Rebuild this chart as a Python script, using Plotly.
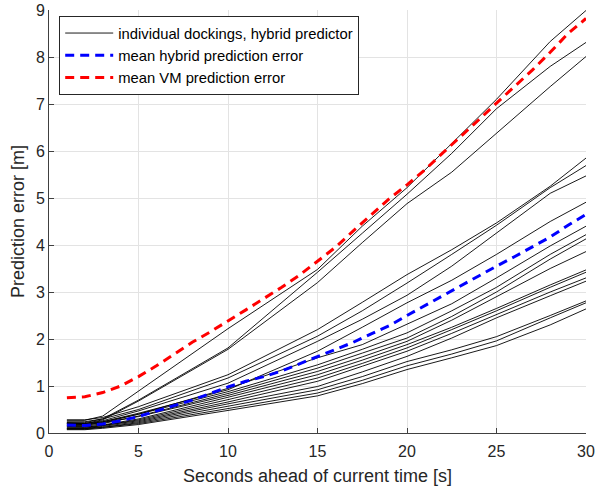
import plotly.graph_objects as go

# time grid (seconds ahead) for the individual dockings
seconds = [1, 2, 3, 5, 10, 15, 17.5, 20, 22.5, 25, 28, 30]

# individual dockings, hybrid predictor (prediction error [m])
dock_a = [0.27, 0.27, 0.36, 0.89, 2.22, 3.48, 4.40, 5.22, 6.15, 7.10, 8.33, 8.99]
dock_b = [0.22, 0.22, 0.30, 0.70, 1.81, 3.42, 4.25, 5.08, 5.95, 6.90, 7.80, 8.31]
dock_c = [0.20, 0.20, 0.28, 0.68, 1.78, 3.20, 4.05, 4.88, 5.55, 6.38, 7.37, 8.01]
dock_m1 = [0.28, 0.28, 0.33, 0.56, 1.24, 2.20, 2.78, 3.37, 3.90, 4.47, 5.25, 5.85]
dock_m2 = [0.24, 0.24, 0.30, 0.50, 1.17, 2.06, 2.60, 3.19, 3.80, 4.42, 5.22, 5.69]
dock_m3 = [0.20, 0.20, 0.26, 0.47, 1.06, 1.95, 2.42, 2.93, 3.55, 4.25, 5.10, 5.47]
dock_m4 = [0.18, 0.18, 0.24, 0.42, 0.92, 1.74, 2.25, 2.77, 3.25, 3.80, 4.50, 4.91]
dock_m5 = [0.16, 0.16, 0.22, 0.40, 0.95, 1.60, 1.88, 2.32, 2.75, 3.30, 3.98, 4.40]
dock_l1 = [0.22, 0.20, 0.24, 0.40, 0.88, 1.45, 1.78, 2.13, 2.60, 3.10, 3.80, 4.22]
dock_l2 = [0.15, 0.14, 0.20, 0.36, 0.84, 1.38, 1.70, 2.02, 2.48, 3.00, 3.70, 4.13]
dock_l3 = [0.20, 0.18, 0.22, 0.35, 0.80, 1.31, 1.62, 1.95, 2.40, 2.90, 3.50, 3.86]
dock_l4 = [0.12, 0.12, 0.17, 0.30, 0.76, 1.24, 1.55, 1.88, 2.25, 2.65, 3.15, 3.47]
dock_l5 = [0.10, 0.10, 0.16, 0.28, 0.71, 1.17, 1.48, 1.81, 2.20, 2.60, 3.10, 3.42]
dock_l6 = [0.14, 0.13, 0.16, 0.26, 0.66, 1.10, 1.42, 1.74, 2.12, 2.52, 3.00, 3.30]
dock_l7 = [0.09, 0.09, 0.14, 0.24, 0.62, 0.99, 1.30, 1.63, 2.02, 2.45, 2.92, 3.23]
dock_l8 = [0.08, 0.08, 0.12, 0.22, 0.57, 0.92, 1.20, 1.52, 1.77, 2.05, 2.50, 2.81]
dock_l9 = [0.10, 0.10, 0.12, 0.20, 0.52, 0.85, 1.12, 1.43, 1.68, 1.96, 2.45, 2.77]
dock_l10 = [0.07, 0.07, 0.10, 0.18, 0.48, 0.79, 1.05, 1.35, 1.60, 1.86, 2.30, 2.64]

dockings = [dock_a, dock_b, dock_c, dock_m1, dock_m2, dock_m3, dock_m4, dock_m5,
            dock_l1, dock_l2, dock_l3, dock_l4, dock_l5, dock_l6, dock_l7,
            dock_l8, dock_l9, dock_l10]

# mean errors, 1..30 s
mean_seconds = list(range(1, 31))
mean_hybrid = [0.17, 0.16, 0.19, 0.26, 0.35, 0.47, 0.58, 0.70, 0.84, 0.98,
               1.10, 1.20, 1.32, 1.47, 1.62, 1.78, 1.93, 2.11, 2.28, 2.50,
               2.71, 2.92, 3.13, 3.35, 3.55, 3.75, 3.96, 4.17, 4.42, 4.65]
mean_vm = [0.75, 0.77, 0.86, 1.00, 1.20, 1.43, 1.68, 1.93, 2.15, 2.38,
           2.62, 2.86, 3.10, 3.36, 3.66, 3.95, 4.30, 4.64, 4.98, 5.28,
           5.60, 5.96, 6.30, 6.66, 7.02, 7.37, 7.72, 8.10, 8.50, 8.82]

FONT = "Liberation Sans, Arial, Helvetica, sans-serif"

fig = go.Figure()
for i, d in enumerate(dockings):
    fig.add_trace(go.Scatter(
        x=seconds, y=d, mode="lines",
        line=dict(color="black", width=0.9),
        name="individual dockings, hybrid predictor",
        showlegend=(i == 0), legendgroup="ind"))

fig.add_trace(go.Scatter(
    x=mean_seconds, y=mean_hybrid, mode="lines",
    line=dict(color="#0000ff", width=3, dash="9px,6px"),
    name="mean hybrid prediction error"))
fig.add_trace(go.Scatter(
    x=mean_seconds, y=mean_vm, mode="lines",
    line=dict(color="#ff0000", width=3, dash="9px,6px"),
    name="mean VM prediction error"))

axis_common = dict(
    showgrid=True, gridcolor="#e3e3e3", gridwidth=1,
    showline=True, linecolor="#404040", linewidth=1,
    ticks="inside", ticklen=5, tickcolor="#404040",
    tickfont=dict(family=FONT, size=16, color="#262626"),
    zeroline=False, mirror=False, automargin=False,
)

fig.update_layout(
    width=596, height=486,
    margin=dict(l=49, r=10, t=10, b=53),
    plot_bgcolor="white", paper_bgcolor="white",
    font=dict(family=FONT, color="#262626"),
    xaxis=dict(range=[0, 30], tick0=0, dtick=5, ticklabelstandoff=4,
               title=dict(text="Seconds ahead of current time [s]",
                          font=dict(size=18, color="#262626"), standoff=11),
               **axis_common),
    yaxis=dict(range=[0, 9], tick0=0, dtick=1,
               title=dict(text="Prediction error [m]",
                          font=dict(size=18, color="#262626"), standoff=6),
               **axis_common),
    legend=dict(x=0.019, y=0.986, xanchor="left", yanchor="top",
                bgcolor="white", bordercolor="#262626", borderwidth=1,
                font=dict(size=14.8, color="black"), itemwidth=48,
                tracegroupgap=0),
    showlegend=True,
)

# remove the browser's default page margin so the figure fills the window
fig.write_html(
    "out.html",
    config={"displayModeBar": False},
    post_script="document.body.style.margin='0';document.body.style.overflow='hidden';",
)
